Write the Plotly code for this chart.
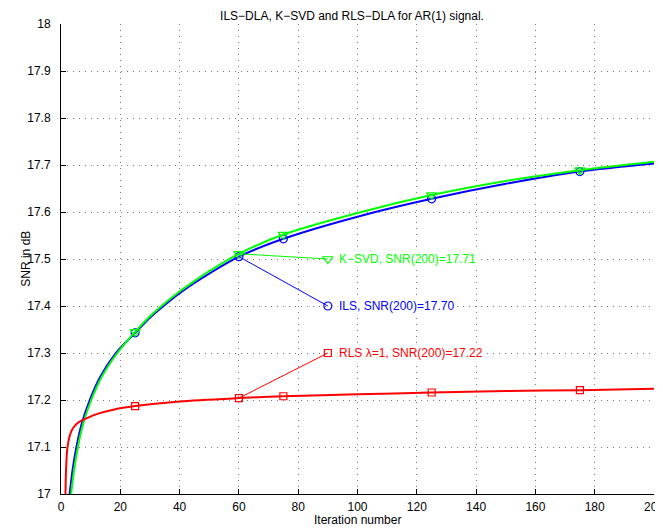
import plotly.graph_objects as go

# ---- data ----
ils_x = [2.9, 4, 5.2, 7, 9.7, 13.3, 18.5, 25, 30, 35, 40, 45, 50, 60, 75, 100, 125, 150, 175, 200]
ils_y = [17.000, 17.055, 17.100, 17.150, 17.200, 17.250, 17.300, 17.343, 17.375, 17.402,
         17.427, 17.449, 17.469, 17.505, 17.543, 17.590, 17.628, 17.660, 17.686, 17.703]

ksvd_x = [3.4, 4.5, 5.7, 7.5, 10.2, 13.8, 19, 25, 30, 35, 40, 45, 50, 60, 75, 100, 125, 150, 175, 200]
ksvd_y = [17.000, 17.055, 17.100, 17.150, 17.200, 17.250, 17.300, 17.345, 17.378, 17.406,
          17.431, 17.453, 17.474, 17.511, 17.552, 17.598, 17.636, 17.666, 17.689, 17.707]

rls_x = [1.5, 1.7, 2.1, 3, 4, 6, 8.6, 12, 18, 25, 40, 60, 75, 100, 125, 150, 175, 200]
rls_y = [17.000, 17.050, 17.095, 17.125, 17.140, 17.153, 17.161, 17.170, 17.180, 17.187,
         17.197, 17.204, 17.208, 17.212, 17.216, 17.219, 17.221, 17.224]

marker_iters = [25, 60, 75, 125, 175]

label_texts = ["K\u2212SVD, SNR(200)=17.71", "ILS, SNR(200)=17.70", "RLS \u03bb=1, SNR(200)=17.22"]
label_y = [17.5, 17.4, 17.3]
label_from_x = 60
label_to_x = 90

x_ticks = [0, 20, 40, 60, 80, 100, 120, 140, 160, 180, 200]
y_ticks = [17, 17.1, 17.2, 17.3, 17.4, 17.5, 17.6, 17.7, 17.8, 17.9, 18]
y_tick_text = ["17", "17.1", "17.2", "17.3", "17.4", "17.5", "17.6", "17.7", "17.8", "17.9", "18"]

title_text = "ILS\u2212DLA, K\u2212SVD and RLS\u2212DLA for AR(1) signal."
x_title = "Iteration number"
y_title = "SNR in dB"

# ---- styling ----
BLUE = "#0000ff"
GREEN = "#00ff00"
RED = "#ff0000"
FONT = "Liberation Sans, Arial, sans-serif"

# the page body adds an 8px margin, so the figure is 8px smaller than the window
FIG_W, FIG_H = 655, 522

series = [
    (ils_x, ils_y, BLUE, "circle-open", 8),
    (ksvd_x, ksvd_y, GREEN, "triangle-down-open", 9),
    (rls_x, rls_y, RED, "square-open", 7),
]
label_series = [series[1], series[0], series[2]]

fig = go.Figure()

for xs, ys, col, sym, msz in series:
    fig.add_trace(go.Scatter(x=xs, y=ys, mode="lines",
                             line=dict(color=col, width=2, shape="spline", smoothing=0.8),
                             hoverinfo="skip", showlegend=False))
    mx = [x for x in xs if x in marker_iters]
    my = [y for x, y in zip(xs, ys) if x in marker_iters]
    fig.add_trace(go.Scatter(x=mx, y=my, mode="markers",
                             marker=dict(symbol=sym, size=msz, color=col,
                                         line=dict(color=col, width=1.2)),
                             showlegend=False, hoverinfo="skip"))

for (xs, ys, col, sym, msz), ly, txt in zip(label_series, label_y, label_texts):
    y0 = ys[xs.index(label_from_x)]
    fig.add_trace(go.Scatter(x=[label_from_x, label_to_x], y=[y0, ly], mode="lines",
                             line=dict(color=col, width=1), showlegend=False,
                             hoverinfo="skip"))
    fig.add_trace(go.Scatter(x=[label_to_x], y=[ly], mode="markers",
                             marker=dict(symbol=sym, size=msz, color=col,
                                         line=dict(color=col, width=1.2)),
                             showlegend=False, hoverinfo="skip"))
    fig.add_annotation(x=label_to_x, y=ly, xref="x", yref="y", text=txt,
                       showarrow=False, xanchor="left", yanchor="middle",
                       xshift=9, bgcolor="white", borderpad=1,
                       font=dict(family=FONT, size=12, color=col))

axis_common = dict(
    showline=True, linecolor="#000000", linewidth=1, mirror=False,
    ticks="inside", ticklen=5, tickcolor="#000000", tickwidth=1,
    showgrid=True, gridcolor="#7a7a7a", gridwidth=1, griddash="1px,5px",
    zeroline=False, automargin=False, ticklabeloverflow="allow",
    tickfont=dict(family=FONT, size=12, color="#000000"),
)

fig.update_xaxes(range=[0, 200], tickvals=x_ticks, ticklabelstandoff=2, **axis_common)
fig.update_yaxes(range=[17, 18], tickvals=y_ticks, ticktext=y_tick_text,
                 ticklabelstandoff=7, **axis_common)

fig.add_annotation(text=x_title, xref="paper", yref="paper", x=0.5, y=-0.055,
                   xanchor="center", yanchor="middle", showarrow=False,
                   font=dict(family=FONT, size=12, color="#000000"))
fig.add_annotation(text=y_title, xref="paper", yref="paper", x=-0.0595, y=0.5,
                   xanchor="center", yanchor="middle", showarrow=False, textangle=-90,
                   font=dict(family=FONT, size=12, color="#000000"))

fig.update_layout(
    width=FIG_W, height=FIG_H,
    margin=dict(l=53, r=9, t=16, b=36, autoexpand=False),
    paper_bgcolor="white", plot_bgcolor="white",
    title=dict(text=title_text, xref="container", yref="container",
               x=344 / FIG_W, y=1 - 7.5 / FIG_H, xanchor="center", yanchor="middle",
               pad=dict(t=0, b=0, l=0, r=0),
               font=dict(family=FONT, size=12, color="#000000")),
    showlegend=False,
)

fig.write_html("out.html")
